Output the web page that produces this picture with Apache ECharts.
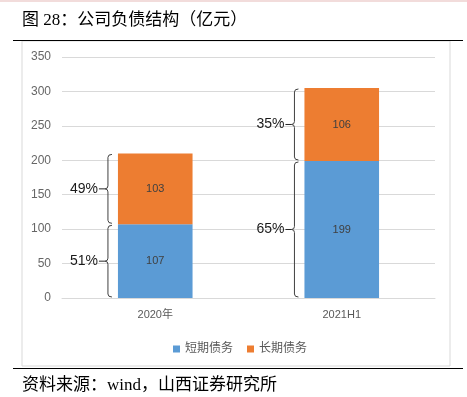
<!DOCTYPE html>
<html>
<head>
<meta charset="utf-8">
<script src="https://cdn.jsdelivr.net/npm/echarts@6/dist/echarts.min.js"></script>
<style>
  html, body { margin: 0; padding: 0; background: #fff; }
  #chart { width: 467px; height: 397px; }
</style>
</head>
<body>
<div id="chart"></div>
<script>
const categories = ['2020年', '2021H1']
const shortDebt = [107, 199]
const longDebt = [103, 106]
const shortPct = ['51%', '65%']
const longPct = ['49%', '35%']
const yTicks = { min: 0, max: 350, interval: 50 }

const blue = '#5B9BD5'
const orange = '#ED7D31'
const grey = '#595959'
const cjk = "'Liberation Sans', 'Noto Sans CJK SC', sans-serif"
const serifCjk = "'Liberation Serif', 'Noto Sans CJK SC', serif"

// brace segments: [category, bottom, top, label]
const braces = []
categories.forEach((c, i) => {
  braces.push([i, 0, shortDebt[i], shortPct[i]])
  braces.push([i, shortDebt[i], shortDebt[i] + longDebt[i], longPct[i]])
})

function renderBrace(params, api) {
  const cat = api.value(0)
  const p0 = api.coord([cat, api.value(1)])
  const p1 = api.coord([cat, api.value(2)])
  const bw = api.size([1, 0])[0] * 0.4
  const bx = p0[0] - bw / 2 - 10
  const y1 = p1[1] + 1
  const y2 = p0[1] - 1
  const ym = (y1 + y2) / 2
  const path = [
    'M', bx + 4, y1, 'Q', bx, y1, bx, y1 + 3,
    'L', bx, ym - 3, 'Q', bx, ym, bx - 3, ym,
    'Q', bx, ym, bx, ym + 3,
    'L', bx, y2 - 3, 'Q', bx, y2, bx + 4, y2
  ].join(' ')
  return {
    type: 'group',
    children: [
      { type: 'path', shape: { pathData: path }, style: { fill: null, stroke: '#404040', lineWidth: 1 } },
      { type: 'line', shape: { x1: bx - 9, y1: ym, x2: bx - 3, y2: ym }, style: { stroke: '#262626', lineWidth: 1 } },
      {
        type: 'text',
        x: bx - 10, y: ym,
        style: {
          text: api.value(3), textAlign: 'right', textVerticalAlign: 'middle',
          fill: '#1a1a1a', fontSize: 14, fontFamily: "'Liberation Sans', sans-serif"
        }
      }
    ]
  }
}

const chart = echarts.init(document.getElementById('chart'))
chart.setOption({
  backgroundColor: '#fff',
  animation: false,
  grid: { left: 62, right: 32, top: 57, bottom: 99 },
  legend: {
    left: 168, top: 338,
    itemWidth: 7, itemHeight: 7, itemGap: 14,
    icon: 'rect',
    textStyle: { color: grey, fontSize: 12, fontFamily: cjk },
    data: ['短期债务', '长期债务']
  },
  xAxis: {
    type: 'category',
    data: categories,
    axisLine: { lineStyle: { color: '#d9d9d9' } },
    axisTick: { show: false },
    axisLabel: { color: grey, fontSize: 11, margin: 11, fontFamily: cjk }
  },
  yAxis: {
    type: 'value',
    min: yTicks.min, max: yTicks.max, interval: yTicks.interval,
    axisLine: { show: false },
    axisTick: { show: false },
    axisLabel: { color: '#666', fontSize: 12, margin: 11, fontFamily: cjk },
    splitLine: { lineStyle: { color: '#d9d9d9' } }
  },
  series: [
    {
      name: '短期债务', type: 'bar', stack: 'd', barWidth: '40%',
      itemStyle: { color: blue },
      label: { show: true, position: 'inside', color: '#404040', fontSize: 11, fontFamily: cjk },
      data: shortDebt
    },
    {
      name: '长期债务', type: 'bar', stack: 'd', barWidth: '40%',
      itemStyle: { color: orange },
      label: { show: true, position: 'inside', color: '#404040', fontSize: 11, fontFamily: cjk },
      data: longDebt
    },
    {
      type: 'custom',
      renderItem: renderBrace,
      encode: { x: 0, y: [1, 2] },
      data: braces,
      silent: true,
      z: 5
    }
  ],
  graphic: [
    { type: 'rect', shape: { x: 0, y: 0, width: 467, height: 2 }, style: { fill: '#f2dcdb' } },
    { type: 'rect', shape: { x: 22, y: 41, width: 428, height: 325 }, style: { fill: null, stroke: '#d9d9d9', lineWidth: 1 } },
    { type: 'line', shape: { x1: 13, y1: 40.5, x2: 463, y2: 40.5 }, style: { stroke: '#000', lineWidth: 1 } },
    { type: 'line', shape: { x1: 13, y1: 368.5, x2: 463, y2: 368.5 }, style: { stroke: '#000', lineWidth: 1 } },
    {
      type: 'text', left: 22, top: 12,
      style: { text: '图 28：公司负债结构（亿元）', fill: '#000', fontSize: 17, fontFamily: serifCjk }
    },
    {
      type: 'text', left: 22, top: 377,
      style: { text: '资料来源：wind，山西证券研究所', fill: '#000', fontSize: 17, fontFamily: serifCjk }
    }
  ]
})
</script>
</body>
</html>
